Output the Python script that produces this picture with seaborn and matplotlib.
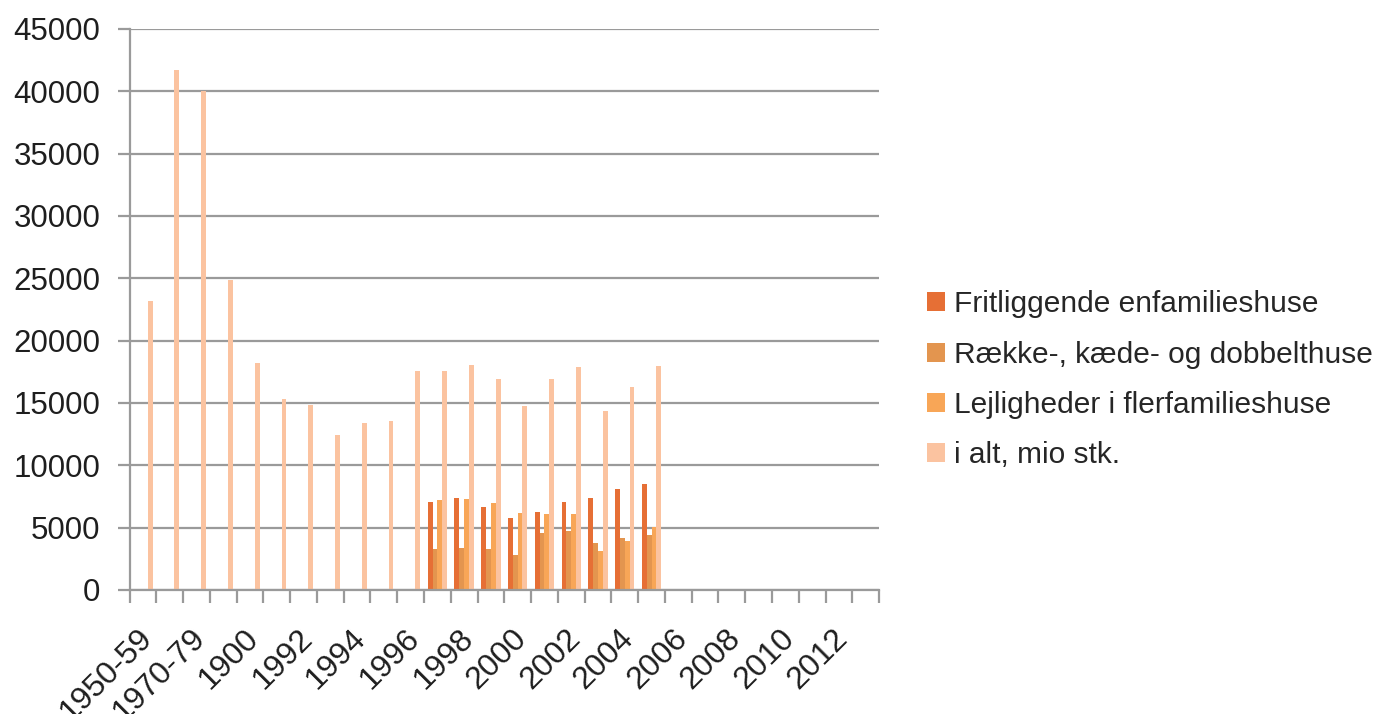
import matplotlib
matplotlib.use("Agg")
import matplotlib.pyplot as plt
import matplotlib.transforms as mtransforms
import seaborn as sns
import pandas as pd
import numpy as np

# categories on the x axis (every other one gets a label)
perioder = ['1950-59', '1960-69', '1970-79', '1980-89', '1900', '1991', '1992',
            '1993', '1994', '1995', '1996', '1997', '1998', '1999', '2000',
            '2001', '2002', '2003', '2004', '2005', '2006', '2007', '2008',
            '2009', '2010', '2011', '2012', '2013']

serier = ['Fritliggende enfamilieshuse', 'Række-, kæde- og dobbelthuse',
          'Lejligheder i flerfamilieshuse', 'i alt, mio stk.']

# 1997-2005
aar_typer = ['1997', '1998', '1999', '2000', '2001', '2002', '2003', '2004', '2005']
fritliggende = [7050, 7370, 6650, 5790, 6240, 7020, 7370, 8090, 8470]
raekke = [3270, 3380, 3270, 2790, 4560, 4720, 3780, 4180, 4400]
lejligheder = [7180, 7290, 6970, 6170, 6090, 6090, 3160, 3960, 5090]

# 1950-59 .. 2005
aar_ialt = perioder[:20]
i_alt = [23170, 41710, 40000, 24900, 18220, 15330, 14850, 12440, 13400, 13560,
         17580, 17580, 18060, 16960, 14770, 16960, 17870, 14370, 16300, 17980]

farver = ['#E66F35', '#E3954F', '#F8A657', '#FBC3A0']

rows = []
for navn, aar, vals in [(serier[0], aar_typer, fritliggende),
                        (serier[1], aar_typer, raekke),
                        (serier[2], aar_typer, lejligheder),
                        (serier[3], aar_ialt, i_alt)]:
    for a, v in zip(aar, vals):
        rows.append({'periode': a, 'serie': navn, 'antal': v})
df = pd.DataFrame(rows)

sns.set_style('white')
plt.rcParams['font.family'] = ['Liberation Sans', 'DejaVu Sans']

fig = plt.figure(figsize=(13.94, 7.14), dpi=100)
ax = fig.add_axes([0.0929, 0.1737, 0.5377, 0.7857])

sns.barplot(data=df, x='periode', y='antal', hue='serie', order=perioder,
            hue_order=serier, palette=farver, saturation=1, width=0.72,
            errorbar=None, linewidth=0, ax=ax)

grid_c = '#9a9a9a'
txt_c = '#1e1e1e'
ax.set_ylim(0, 45000)
ax.set_yticks(np.arange(0, 45001, 5000))
ax.yaxis.grid(True, color=grid_c, linewidth=1.6)
ax.set_axisbelow(True)
ax.tick_params(axis='y', length=9, width=1.6, color=grid_c, labelsize=22.5,
               labelcolor=txt_c, pad=12, left=True)

ax.set_xlim(-0.5, len(perioder) - 0.5)
ax.set_xticks(range(len(perioder)))
ax.set_xticklabels([p if i % 2 == 0 else '' for i, p in enumerate(perioder)],
                   rotation=45, ha='right', rotation_mode='anchor',
                   fontsize=23, color=txt_c)
ax.tick_params(axis='x', length=0, pad=24)
# nudge the rotated labels a little to the left
shift = mtransforms.ScaledTranslation(-6 / 100, 0, fig.dpi_scale_trans)
for lab in ax.get_xticklabels():
    lab.set_transform(lab.get_transform() + shift)
ax.set_xticks(np.arange(-0.5, len(perioder), 1), minor=True)
ax.tick_params(axis='x', which='minor', length=9, width=1.6, color=grid_c,
               bottom=True)

for s in ['top', 'right']:
    ax.spines[s].set_visible(False)
for s in ['left', 'bottom']:
    ax.spines[s].set_color(grid_c)
    ax.spines[s].set_linewidth(1.6)

ax.set_xlabel('')
ax.set_ylabel('')

handles, labels = ax.get_legend_handles_labels()
ax.get_legend().remove()
fig.legend(handles, labels, loc='center left', bbox_to_anchor=(0.6562, 0.468),
           frameon=False, fontsize=21.5, handlelength=0.6, handleheight=0.6,
           handletextpad=0.33, labelspacing=0.75, borderaxespad=0)

fig.savefig('out.png', dpi=100)
